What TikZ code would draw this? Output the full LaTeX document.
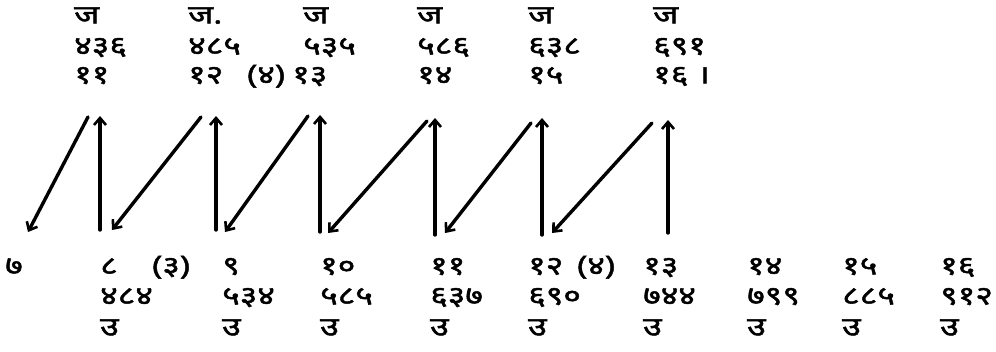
\documentclass[tikz,border=0pt]{standalone}
\usepackage{fontspec}
\newfontfamily\deva[Script=Devanagari,FakeBold=1.8,FakeStretch=1.3]{Noto Sans}
\usetikzlibrary{arrows.meta}
\begin{document}
\begin{tikzpicture}[x=1pt,y=-1pt,
  lbl/.style={anchor=west,inner sep=0pt,text height=13pt,text depth=0pt,font=\deva\fontsize{26}{26}\selectfont},
  arr/.style={line width=3.4pt,line cap=round,-{Straight Barb[length=7pt,width=12pt,line width=2.6pt]}}]
\useasboundingbox (0,0) rectangle (996,351);
% top labels
\foreach \n/\x/\a/\b/\c in {t1/74/ज/४३६/११, t2/188/ज./४८५/१२, t3/303/ज/५३५/, t4/417/ज/५८६/१४, t5/528/ज/६३८/१५, t6/653/ज/६९१/१६ ।}{
  \node[lbl] (\n a) at (\x,17) {\a};
  \node[lbl] (\n b) at (\x,48) {\b};
  \node[lbl] (\n c) at (\x,77) {\c};
}
\node[lbl] (t3p) at (247,77) {(४)};
\node[lbl] (t3c2) at (292,77) {१३};
% bottom labels
\node[lbl] (b0) at (5,268) {७};
\foreach \n/\x/\a/\b in {b1/100/८/४८४, b2/222/९/५३४, b3/320/१०/५८५, b4/430/११/६३७, b5/528/१२/६९०, b6/643/१३/७४४, b7/747/१४/७९९, b8/842/१५/८८५, b9/940/१६/९१२}{
  \node[lbl] (\n a) at (\x,268) {\a};
  \node[lbl] (\n b) at (\x,298) {\b};
  \node[lbl] (\n c) at (\x,329) {उ};
}
\node[lbl] (b1p) at (152,268) {(३)};
\node[lbl] (b5p) at (577,268) {(४)};
% arrow ends
\foreach \i/\vx/\vb/\vt/\dx/\dy/\ex/\ey in {1/100/230/116/88/117/28/232, 2/216/230/116/201/117/112/230, 3/320/232/115/308/116/225/232, 4/435/235/118/427/121/328/233, 5/542/235/118/531/123/445/233, 6/668/233/120/652/123/552/233}{
  \coordinate (vb\i) at (\vx,\vb);
  \coordinate (vt\i) at (\vx,\vt);
  \coordinate (ds\i) at (\dx,\dy);
  \coordinate (de\i) at (\ex,\ey);
  \draw[arr] (vb\i) -- (vt\i);
  \draw[arr] (ds\i) -- (de\i);
}
\end{tikzpicture}
\end{document}
